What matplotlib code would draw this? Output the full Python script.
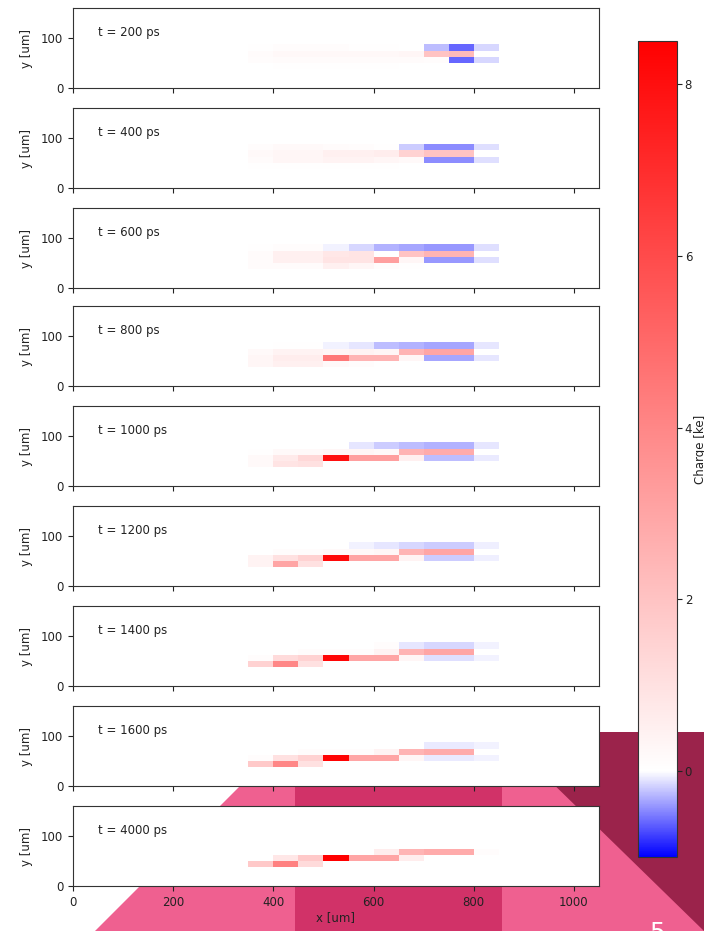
import numpy as np
import matplotlib.pyplot as plt
from matplotlib.colors import LinearSegmentedColormap, Normalize
from matplotlib.patches import Polygon

# snapshot times [ps]
times = [200, 400, 600, 800, 1000, 1200, 1400, 1600, 4000]

# pixel grid [um]: 50 um columns, 12.5 um rows
x_edges = [350, 400, 450, 500, 550, 600, 650, 700, 750, 800, 850]
y_edges = [37.5, 50, 62.5, 75, 87.5]

# collected charge [ke], rows bottom -> top, columns left -> right
q_200 = [[0.0, 0.05, 0.05, 0.05, 0.05, 0.05, 0.0, 0.0, 0.0, 0.0],
         [0.1, 0.15, 0.15, 0.15, 0.15, 0.15, 0.15, 0.1, -0.6, -0.15],
         [0.15, 0.25, 0.25, 0.25, 0.25, 0.25, 0.3, 2.0, 2.3, 0.0],
         [0.05, 0.1, 0.1, 0.1, 0.05, 0.05, 0.0, -0.25, -0.6, -0.15]]
q_400 = [[0.05, 0.05, 0.05, 0.05, 0.05, 0.05, 0.0, 0.0, 0.0, 0.0],
         [0.15, 0.3, 0.3, 0.4, 0.4, 0.3, 0.2, -0.45, -0.45, -0.12],
         [0.2, 0.3, 0.3, 0.5, 0.5, 0.6, 1.5, 2.0, 2.0, 0.0],
         [0.1, 0.2, 0.2, 0.15, 0.1, 0.05, -0.2, -0.45, -0.45, -0.12]]
q_600 = [[0.15, 0.15, 0.15, 0.5, 0.3, 0.1, 0.05, 0.0, 0.0, 0.0],
         [0.15, 0.5, 0.5, 0.9, 0.9, 3.2, 0.3, -0.4, -0.4, -0.12],
         [0.15, 0.5, 0.5, 0.8, 0.9, 0.0, 2.0, 2.5, 2.5, 0.0],
         [0.05, 0.1, 0.1, -0.05, -0.15, -0.3, -0.35, -0.4, -0.4, -0.12]]
q_800 = [[0.3, 0.5, 0.5, 0.2, 0.1, 0.0, 0.0, 0.0, 0.0, 0.0],
         [0.3, 0.6, 0.6, 4.5, 2.5, 2.5, 0.3, -0.35, -0.35, -0.1],
         [0.2, 0.4, 0.4, 0.3, 0.4, 0.3, 2.5, 3.0, 3.0, 0.0],
         [0.0, 0.05, 0.05, -0.05, -0.1, -0.25, -0.3, -0.35, -0.35, -0.1]]
q_1000 = [[0.2, 0.9, 1.0, 0.0, 0.0, 0.0, 0.0, 0.0, 0.0, 0.0],
          [0.2, 0.7, 1.3, 8.0, 3.2, 3.2, 0.5, -0.25, -0.25, -0.08],
          [0.05, 0.2, 0.2, 0.3, 0.3, 0.2, 2.5, 2.8, 2.8, 0.0],
          [0.0, 0.0, 0.0, 0.0, -0.1, -0.2, -0.25, -0.3, -0.3, -0.1]]
q_1200 = [[0.4, 3.0, 1.0, 0.0, 0.0, 0.0, 0.0, 0.0, 0.0, 0.0],
          [0.4, 1.0, 1.5, 8.2, 3.0, 3.0, 0.4, -0.2, -0.2, -0.06],
          [0.0, 0.1, 0.1, 0.2, 0.2, 0.3, 2.5, 3.0, 3.0, 0.0],
          [0.0, 0.0, 0.0, 0.0, -0.05, -0.1, -0.15, -0.2, -0.2, -0.06]]
q_1400 = [[1.5, 4.0, 1.0, 0.0, 0.0, 0.0, 0.0, 0.0, 0.0, 0.0],
          [0.1, 1.2, 1.5, 8.3, 3.0, 3.0, 0.3, -0.12, -0.12, -0.05],
          [0.0, 0.0, 0.1, 0.1, 0.1, 0.4, 2.5, 3.0, 3.0, 0.0],
          [0.0, 0.0, 0.0, 0.0, 0.0, 0.1, -0.1, -0.15, -0.15, -0.05]]
q_1600 = [[1.8, 4.0, 1.0, 0.0, 0.0, 0.0, 0.0, 0.0, 0.0, 0.0],
          [0.1, 1.0, 1.5, 8.4, 3.0, 3.0, 0.3, -0.08, -0.08, -0.05],
          [0.0, 0.0, 0.1, 0.1, 0.1, 0.4, 2.5, 2.8, 2.8, 0.0],
          [0.0, 0.0, 0.0, 0.0, 0.0, 0.0, 0.0, -0.08, -0.08, -0.05]]
q_4000 = [[1.8, 4.2, 1.2, 0.0, 0.0, 0.0, 0.0, 0.0, 0.0, 0.0],
          [0.0, 0.8, 1.8, 8.5, 3.0, 3.0, 0.6, 0.0, 0.0, 0.0],
          [0.0, 0.0, 0.0, 0.0, 0.0, 0.6, 2.5, 2.8, 2.8, 0.1],
          [0.0, 0.0, 0.0, 0.0, 0.0, 0.0, 0.0, 0.0, 0.0, 0.0]]
charges = [q_200, q_400, q_600, q_800, q_1000, q_1200, q_1400, q_1600, q_4000]

W, H = 704, 931
fig = plt.figure(figsize=(W / 100, H / 100), dpi=100)


def fpos(x, y):
    # pixel position (from top left) -> figure fraction
    return (x / W, 1 - y / H)


# slide background shapes
shapes = [([(294, 732), (704, 732), (704, 931), (95, 931)], '#ef6090'),
          ([(295, 732), (502, 732), (502, 931), (295, 931)], '#d13268'),
          ([(500, 732), (704, 732), (704, 931)], '#9b234b')]
for pts, col in shapes:
    fig.add_artist(Polygon([fpos(*p) for p in pts], closed=True,
                           transform=fig.transFigure, facecolor=col,
                           edgecolor='none', zorder=-10))

cmap = LinearSegmentedColormap.from_list(
    'charge', [(0, '#0000ff'), (1 / 9.5, '#ffffff'), (1, '#ff0000')], N=1024)
norm = Normalize(vmin=-1, vmax=8.5)

tops = [8, 108, 208, 306, 406, 506, 606, 706, 806]
for i, (t, q) in enumerate(zip(times, charges)):
    ax = fig.add_axes([73 / W, 1 - (tops[i] + 80) / H, 526 / W, 80 / H])
    vals = np.ma.masked_equal(np.array(q), 0.0)
    mesh = ax.pcolormesh(x_edges, y_edges, vals, cmap=cmap, norm=norm)
    ax.set_xlim(0, 1050)
    ax.set_ylim(0, 160)
    ax.set_xticks(range(0, 1001, 200))
    ax.set_yticks([0, 100])
    ax.tick_params(labelsize=8.5, length=3.5, colors='#222')
    for s in ax.spines.values():
        s.set_color('#333')
    ax.text(0.048, 0.69, f't = {t} ps', transform=ax.transAxes,
            fontsize=8.5, va='center', color='#222')
    ax.set_ylabel('y [um]', fontsize=8.5, color='#222', labelpad=6)
    if i < len(times) - 1:
        ax.tick_params(labelbottom=False)
    else:
        ax.set_xlabel('x [um]', fontsize=8.5, color='#222', labelpad=2)

cax = fig.add_axes([638 / W, 1 - 857 / H, 39 / W, 816 / H])
cb = fig.colorbar(mesh, cax=cax)
cb.set_ticks([0, 2, 4, 6, 8])
cb.ax.tick_params(labelsize=8.5, length=3.5, pad=2, colors='#222')
cb.outline.set_edgecolor('#333')
fig.text(694 / W, 1 - 449 / H, 'Charge [ke]', rotation=90, va='center',
         ha='left', fontsize=8.5, color='#222')

fig.text(657 / W, 1 - 921 / H, '5', color='white', fontsize=18,
         ha='center', va='top')

fig.savefig('out.png', dpi=100)
